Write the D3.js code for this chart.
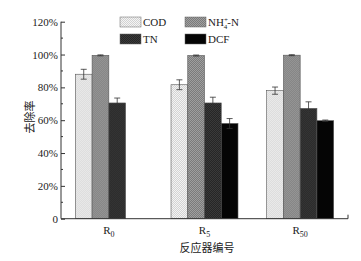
<!DOCTYPE html>
<html>
<head>
<meta charset="utf-8">
<script src="https://cdn.jsdelivr.net/npm/d3@7"></script>
<style>
  body { margin: 0; background: #fff; }
  text { font-family: "Liberation Serif", "Times New Roman", serif; fill: #222; }
  .cjk { font-family: "Noto Sans CJK SC", sans-serif; }
</style>
</head>
<body>
<div id="chart"></div>
<script>
// reactors on the x axis
const reactors = ['0', '5', '50'];
// series (removal rate, fraction) and their error bars
const seriesNames = ['COD', 'NH4', 'TN', 'DCF'];
const codValues = [0.88, 0.816, 0.78];
const codErrors = [0.03, 0.03, 0.022];
const nh4Values = [0.995, 0.994, 0.996];
const nh4Errors = [0.003, 0.003, 0.003];
const tnValues = [0.705, 0.705, 0.672];
const tnErrors = [0.03, 0.035, 0.04];
const dcfValues = [0, 0.58, 0.597];
const dcfErrors = [0, 0.03, 0.004];
const yTicks = [0, 0.2, 0.4, 0.6, 0.8, 1.0, 1.2];

const valueTable = { COD: codValues, NH4: nh4Values, TN: tnValues, DCF: dcfValues };
const errorTable = { COD: codErrors, NH4: nh4Errors, TN: tnErrors, DCF: dcfErrors };

const width = 361, height = 261;
const svg = d3.select('#chart').append('svg')
  .attr('width', width)
  .attr('height', height);

// fill patterns for each series
const defs = svg.append('defs');
function checker(id, a, b) {
  const p = defs.append('pattern')
    .attr('id', id)
    .attr('width', 2).attr('height', 2)
    .attr('patternUnits', 'userSpaceOnUse');
  p.append('rect').attr('width', 2).attr('height', 2).attr('fill', a);
  p.append('rect').attr('width', 1).attr('height', 1).attr('fill', b);
  p.append('rect').attr('x', 1).attr('y', 1).attr('width', 1).attr('height', 1).attr('fill', b);
}
checker('pat-cod', '#f4f4f4', '#d2d2d2');
checker('pat-nh4', '#a0a0a0', '#7a7a7a');
checker('pat-tn', '#3a3a3a', '#262626');
const fills = {
  COD: 'url(#pat-cod)',
  NH4: 'url(#pat-nh4)',
  TN: 'url(#pat-tn)',
  DCF: '#050505'
};

// scales
const x0 = d3.scaleBand()
  .domain(reactors)
  .range([61, 348])
  .paddingInner(0.3)
  .paddingOuter(0.15);
const x1 = d3.scaleBand()
  .domain(seriesNames)
  .range([0, x0.bandwidth()]);
const y = d3.scaleLinear()
  .domain([0, 1.2])
  .range([218.7, 21.7]);

// bars
const groups = svg.selectAll('.group')
  .data(reactors)
  .enter().append('g')
  .attr('transform', d => `translate(${x0(d)},0)`);

groups.each(function(r, i) {
  const g = d3.select(this);
  seriesNames.forEach(s => {
    const v = valueTable[s][i];
    if (v <= 0) return;
    g.append('rect')
      .attr('x', x1(s))
      .attr('y', y(v))
      .attr('width', x1.bandwidth())
      .attr('height', y(0) - y(v))
      .attr('fill', fills[s])
      .attr('stroke', '#555')
      .attr('stroke-width', 0.6);
    const e = errorTable[s][i];
    const cx = x1(s) + x1.bandwidth() / 2;
    const eb = g.append('g').attr('stroke', '#333').attr('stroke-width', 0.8);
    eb.append('line')
      .attr('x1', cx).attr('x2', cx)
      .attr('y1', y(v + e)).attr('y2', y(v - e));
    eb.append('line')
      .attr('x1', cx - 3).attr('x2', cx + 3)
      .attr('y1', y(v + e)).attr('y2', y(v + e));
    eb.append('line')
      .attr('x1', cx - 3).attr('x2', cx + 3)
      .attr('y1', y(v - e)).attr('y2', y(v - e));
  });
});

// y axis with inward ticks and minor ticks
const yAxis = svg.append('g')
  .attr('transform', 'translate(61,0)')
  .call(d3.axisRight(y).tickValues(yTicks).tickSize(4).tickFormat(() => ''));
yAxis.select('.domain').attr('stroke', '#333').attr('d', `M0,${y(0)}V${y(1.2)}`);
yAxis.selectAll('.tick line').attr('stroke', '#333');
const minor = d3.range(0.1, 1.2, 0.2);
svg.append('g').selectAll('line')
  .data(minor)
  .enter().append('line')
  .attr('x1', 61).attr('x2', 63)
  .attr('y1', d => y(d)).attr('y2', d => y(d))
  .attr('stroke', '#333');

svg.append('g').selectAll('text')
  .data(yTicks)
  .enter().append('text')
  .attr('x', 58)
  .attr('y', d => y(d) + 4)
  .attr('text-anchor', 'end')
  .style('font-size', '11px')
  .text(d => d === 0 ? '0' : Math.round(d * 100) + '%');

// x axis
svg.append('line')
  .attr('x1', 61).attr('x2', 348)
  .attr('y1', y(0)).attr('y2', y(0))
  .attr('stroke', '#333');
svg.append('line')
  .attr('x1', 348).attr('x2', 348)
  .attr('y1', y(0)).attr('y2', y(0) - 4)
  .attr('stroke', '#333');

const xl = svg.append('g').selectAll('text')
  .data(reactors)
  .enter().append('text')
  .attr('x', d => x0(d) + x0.bandwidth() / 2)
  .attr('y', 234)
  .attr('text-anchor', 'middle')
  .style('font-size', '11px');
xl.append('tspan').text('R');
xl.append('tspan')
  .attr('dy', 3)
  .style('font-size', '8px')
  .text(d => d);

// axis titles
svg.append('text')
  .attr('class', 'cjk')
  .attr('x', 207)
  .attr('y', 252)
  .attr('text-anchor', 'middle')
  .style('font-size', '11px')
  .text('反应器编号');

svg.append('text')
  .attr('class', 'cjk')
  .attr('transform', 'translate(34,117) rotate(-90)')
  .attr('text-anchor', 'middle')
  .style('font-size', '11px')
  .text('去除率');

// legend
const legendItems = [
  { key: 'COD', x: 120, y: 17 },
  { key: 'NH4', x: 185, y: 17 },
  { key: 'TN', x: 120, y: 34 },
  { key: 'DCF', x: 185, y: 34 }
];
const legend = svg.append('g');
legendItems.forEach(it => {
  legend.append('rect')
    .attr('x', it.x).attr('y', it.y)
    .attr('width', 21).attr('height', 10)
    .attr('fill', fills[it.key])
    .attr('stroke', '#666')
    .attr('stroke-width', 0.5);
  const t = legend.append('text')
    .attr('x', it.x + 23)
    .attr('y', it.y + 9)
    .style('font-size', '11px');
  if (it.key === 'NH4') {
    t.append('tspan').text('NH');
    t.append('tspan').attr('dy', -4).style('font-size', '7px').text('+');
    t.append('tspan').attr('dx', -4).attr('dy', 7).style('font-size', '7px').text('4');
    t.append('tspan').attr('dy', -3).text('-N');
  } else {
    t.text(it.key);
  }
});
</script>
</body>
</html>
